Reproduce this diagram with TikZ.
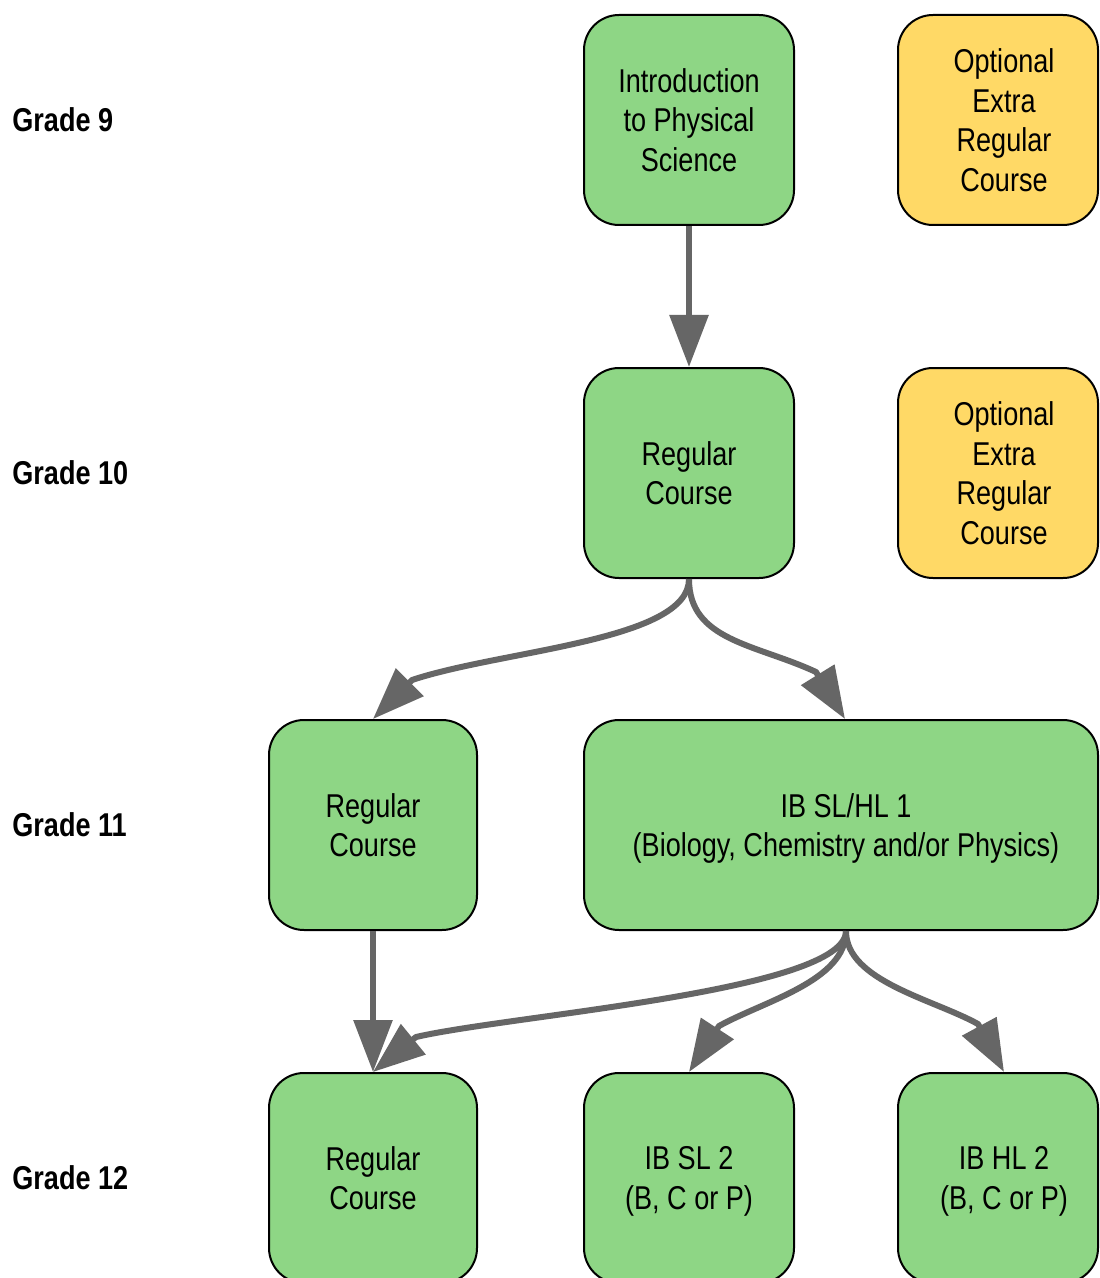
\documentclass[tikz,border=0pt]{standalone}
\usepackage{fontspec}
\setmainfont{Liberation Sans}[FakeStretch=0.82]
\usetikzlibrary{arrows.meta,calc}
\definecolor{boxgreen}{RGB}{142,214,133}
\definecolor{boxyellow}{RGB}{255,217,102}
\definecolor{arrowgray}{RGB}{102,102,102}
% indent that moves a centred line right by half of its width
\newcommand{\pad}[1]{\hspace*{#1}}
% last line without depth, so that the block centres like the others
\newcommand{\nodepth}[1]{\raisebox{0pt}[\height][0pt]{#1}}
\begin{document}
\begin{tikzpicture}[x=0.5pt,y=-0.5pt,
  box/.style={draw=black, line width=1pt, rounded corners=17.5pt, fill=boxgreen,
    minimum height=105pt, minimum width=105pt, inner sep=0pt, align=center,
    font=\fontsize{16.5pt}{19.75pt}\selectfont},
  optbox/.style={box, fill=boxyellow, minimum width=100pt},
  gradelabel/.style={anchor=west, inner sep=0pt, font=\fontsize{16.5pt}{19.75pt}\selectfont\bfseries},
  arr/.style={draw=arrowgray, line width=3pt, line join=round,
    -{Triangle[length=26pt, width=19pt, color=arrowgray]}}
]
\useasboundingbox (0,0) rectangle (1099,1278);
\fill[white] (0,0) rectangle (1099,1278);
\begin{scope}
\clip (0,0) rectangle (1099,1278);
% grade labels
\node[gradelabel] (g9)  at (12,120)  {Grade 9};
\node[gradelabel] (g10) at (12,473)  {Grade 10};
\node[gradelabel] (g11) at (12,825)  {Grade 11};
\node[gradelabel] (g12) at (12,1178) {Grade 12};
% boxes
\node[box] (intro) at (689,120) {Introduction\\to Physical\\Science};
\node[optbox] (opt1) at (998,120) {\pad{6pt}Optional\\\pad{6pt}Extra\\\pad{6pt}Regular\\\pad{6pt}Course};
\node[box] (reg10) at (689,473) {Regular\\Course};
\node[optbox] (opt2) at (998,473) {\pad{6pt}Optional\\\pad{6pt}Extra\\\pad{6pt}Regular\\\pad{6pt}Course};
\node[box, minimum width=104pt] (reg11) at (373,825) {Regular\\Course};
\node[box, minimum width=257pt] (ib1) at (841,825) {\pad{5pt}IB SL/HL 1\\\pad{5pt}\nodepth{(Biology, Chemistry and/or Physics)}};
\node[box, minimum width=104pt] (reg12) at (373,1178) {Regular\\Course};
\node[box] (sl2) at (689,1178) {IB SL 2\\\nodepth{(B, C or P)}};
\node[box, minimum width=100pt] (hl2) at (998,1178) {\pad{6pt}IB HL 2\\\pad{6pt}\nodepth{(B, C or P)}};
% connector ends
\coordinate (ibout) at ([xshift=2.5pt]ib1.south);
\coordinate (ibin) at ([xshift=2pt]ib1.north);
\coordinate (hlin) at ([xshift=3pt]hl2.north);
% connectors
\draw[arr] (intro.south) -- (reg10.north);
\draw[arr] (reg10.south) .. controls +(0,62) and +(90,-30) .. ($(reg11.north)+(39,-39)$) -- (reg11.north);
\draw[arr] (reg10.south) .. controls +(0,62) and +(-60,-28) .. ($(ibin)+(-29,-47)$) -- (ibin);
\draw[arr] (reg11.south) -- (reg12.north);
\draw[arr] (ibout) .. controls +(0,60) and +(95,-22) .. ($(reg12.north)+(43,-35)$) -- (reg12.north);
\draw[arr] (ibout) .. controls +(0,50) and +(45,-25) .. ($(sl2.north)+(30,-46)$) -- (sl2.north);
\draw[arr] (ibout) .. controls +(0,50) and +(-45,-25) .. ($(hlin)+(-26,-48)$) -- (hlin);
\end{scope}
\end{tikzpicture}
\end{document}
